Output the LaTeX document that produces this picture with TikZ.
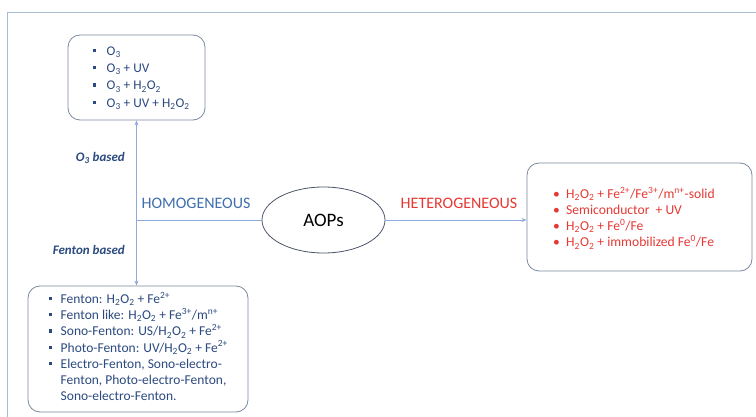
\documentclass[tikz,border=0pt]{standalone}
\usepackage{fontspec}
\setmainfont{Carlito}
\usetikzlibrary{arrows.meta,shapes.geometric}
\definecolor{listblue}{HTML}{2B4A80}
\definecolor{homblue}{HTML}{3F6FAE}
\definecolor{hetred}{HTML}{E53935}
\definecolor{linkblue}{HTML}{8FAADC}
\definecolor{boxgray}{HTML}{7A8A9E}
\definecolor{ellgray}{HTML}{4A5568}
\definecolor{framecol}{HTML}{A7BBD2}
\newcommand\sqb[1]{\makebox[#1][l]{\rule[3.3pt]{3.2pt}{3.2pt}}}
\newcommand\rdb{\makebox[13pt][l]{•}}
\newcommand\hho{H\textsubscript{2}O\textsubscript{2}}
\newcommand\othree{O\textsubscript{3}}
\tikzset{
  listbox/.style={draw=boxgray, line width=0.8pt, rounded corners=12pt, inner sep=0pt},
  listtext/.style={anchor=west, align=left, inner sep=0pt},
  link/.style={draw=linkblue, line width=0.9pt},
  linkarrow/.style={link, -{Stealth[length=5pt,width=4pt]}},
  sidelabel/.style={anchor=east, inner sep=0pt, text=listblue, font=\fontsize{13}{15}\selectfont\bfseries\itshape},
  kindlabel/.style={inner sep=0pt, font=\fontsize{16}{18}\selectfont}
}
\begin{document}
\begin{tikzpicture}[x=1pt,y=-1pt]
\useasboundingbox (0,0) rectangle (756,417);
\fill[white] (0,0) rectangle (756,417);
\draw[framecol, line width=1pt] (7,417) -- (7,13) -- (756,13);

% boxes
\node[listbox, minimum width=137pt, minimum height=85pt] (top) at (136.5,77.5) {};
\node[listtext, text=listblue, font=\fontsize{13.3}{17.3}\selectfont] (toptext) at (92.5,78) {\sqb{14pt}\othree\\ \sqb{14pt}\othree{} + UV\\ \sqb{14pt}\othree{} + \hho\\ \sqb{14pt}\othree{} + UV + \hho};

\node[listbox, minimum width=220pt, minimum height=126pt] (bot) at (138,349) {};
\node[listtext, text=listblue, font=\fontsize{13.5}{16.2}\selectfont] (bottext) at (49,346.5) {\sqb{11.5pt}Fenton: \hho{} + Fe\textsuperscript{2+}\\
\sqb{11.5pt}Fenton like: \hho{} + Fe\textsuperscript{3+}/m\textsuperscript{n+}\\
\sqb{11.5pt}Sono-Fenton: US/\hho{} + Fe\textsuperscript{2+}\\
\sqb{11.5pt}Photo-Fenton: UV/\hho{} + Fe\textsuperscript{2+}\\
\sqb{11.5pt}Electro-Fenton, Sono-electro-\\
\hspace*{11.5pt}Fenton, Photo-electro-Fenton,\\
\hspace*{11.5pt}Sono-electro-Fenton.};

\node[listbox, minimum width=225pt, minimum height=108pt] (right) at (639.5,217) {};
\node[listtext, text=hetred, font=\fontsize{13.6}{16.2}\selectfont] (righttext) at (553,218) {\rdb\hho{} + Fe\textsuperscript{2+}/Fe\textsuperscript{3+}/m\textsuperscript{n+}-solid\\
\rdb Semiconductor~ + UV\\
\rdb\hho{} + Fe\textsuperscript{0}/Fe\\
\rdb\hho{} + immobilized Fe\textsuperscript{0}/Fe};

% centre
\node[draw=ellgray, line width=0.8pt, ellipse, minimum width=123pt, minimum height=66pt, inner sep=0pt, font=\fontsize{19}{21}\selectfont] (aop) at (323.5,220) {AOPs};

\coordinate (junc) at (136.5,220);
\draw[link] (aop.west) -- (junc);
\draw[linkarrow] (junc) -- (junc |- top.south);
\draw[linkarrow] (junc) -- (junc |- bot.north);
\draw[linkarrow] (aop.east) -- (aop.east -| right.west);

% labels
\node[kindlabel, text=homblue] (hom) at (196,203) {HOMOGENEOUS};
\node[kindlabel, text=hetred] (het) at (459,203) {HETEROGENEOUS};
\node[sidelabel] (o3lab) at (125,158) {O\textsubscript{3} based};
\node[sidelabel] (fenlab) at (125,250) {Fenton based};
\end{tikzpicture}
\end{document}
